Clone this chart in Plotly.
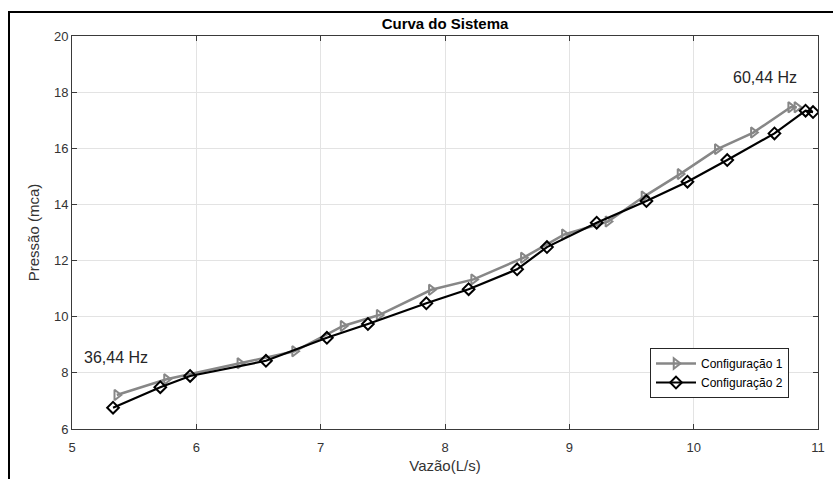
import plotly.graph_objects as go

# Data
x_cfg1 = [5.36, 5.76, 6.35, 6.79, 7.18, 7.47, 7.89, 8.23, 8.63, 8.96, 9.31, 9.60, 9.89, 10.19, 10.48, 10.78, 10.83]
y_cfg1 = [7.21, 7.77, 8.34, 8.77, 9.67, 10.06, 10.96, 11.33, 12.10, 12.93, 13.39, 14.28, 15.08, 15.97, 16.56, 17.46, 17.46]

x_cfg2 = [5.33, 5.71, 5.95, 6.56, 7.05, 7.38, 7.85, 8.19, 8.58, 8.82, 9.22, 9.62, 9.95, 10.27, 10.65, 10.90, 10.96]
y_cfg2 = [6.76, 7.49, 7.89, 8.43, 9.25, 9.74, 10.48, 10.98, 11.69, 12.48, 13.35, 14.12, 14.81, 15.58, 16.53, 17.34, 17.29]

series_names = ["Configuração 1", "Configuração 2"]
x_ticks = [5, 6, 7, 8, 9, 10, 11]
y_ticks = [6, 8, 10, 12, 14, 16, 18, 20]
labels = [("36,44 Hz", 5.08, 8.53, "left"), ("60,44 Hz", 10.85, 18.51, "right")]

FONT = "Liberation Sans, Arial, sans-serif"
AXC = "#3a3a3a"

fig = go.Figure()
fig.add_trace(go.Scatter(
    x=x_cfg1, y=y_cfg1, mode="lines+markers", name=series_names[0],
    line=dict(color="#878787", width=2.5),
    marker=dict(symbol="triangle-right-open", size=9, color="#878787", line=dict(width=2, color="#878787")),
))
fig.add_trace(go.Scatter(
    x=x_cfg2, y=y_cfg2, mode="lines+markers", name=series_names[1],
    line=dict(color="#000000", width=2.2),
    marker=dict(symbol="diamond-open", size=9, color="#000000", line=dict(width=2, color="#000000")),
))

for txt, lx, ly, anc in labels:
    fig.add_annotation(x=lx, y=ly, text=txt, showarrow=False, xanchor=anc, yanchor="middle",
                       font=dict(family=FONT, size=16, color="#262626"))

L, R, T, B = 72, 15, 36, 50
W, H = 833, 479
pw, ph = W - L - R, H - T - B

# outer figure frame
fig.add_shape(type="rect", xref="paper", yref="paper",
              x0=(9 - L) / pw, x1=(836 - L) / pw,
              y0=-(483 - (H - B)) / ph, y1=1 + (T - 12) / ph,
              line=dict(color="#000000", width=2), layer="above")

axis_common = dict(
    showline=True, linecolor=AXC, linewidth=1, mirror="ticks",
    ticks="inside", ticklen=5, tickcolor=AXC,
    showgrid=True, gridcolor="#e3e3e3", gridwidth=1,
    zeroline=False, automargin=False,
    tickfont=dict(family=FONT, size=13, color="#333333"),
)

fig.update_layout(
    width=W, height=H,
    margin=dict(l=L, r=R, t=T, b=B, autoexpand=False),
    paper_bgcolor="white", plot_bgcolor="white",
    title=dict(text="<b>Curva do Sistema</b>", x=(L + pw / 2) / W, xanchor="center",
               y=1 - 24 / H, yanchor="middle",
               font=dict(family=FONT, size=15, color="#000000")),
    xaxis=dict(range=[5, 11], tickvals=x_ticks, ticklabelstandoff=6,
               title=dict(text="Vazão(L/s)", font=dict(family=FONT, size=15, color="#333333"), standoff=6),
               **axis_common),
    yaxis=dict(range=[6, 20], tickvals=y_ticks,
               title=dict(text="Pressão (mca)", font=dict(family=FONT, size=15, color="#333333"), standoff=10),
               **axis_common),
    legend=dict(x=(789 - L) / pw, y=(H - B - 398) / ph, xanchor="right", yanchor="bottom",
                bgcolor="white", bordercolor="#262626", borderwidth=1,
                font=dict(family=FONT, size=12, color="#000000"),
                tracegroupgap=0, itemwidth=40),
    showlegend=True,
)

fig.write_html("out.html")
